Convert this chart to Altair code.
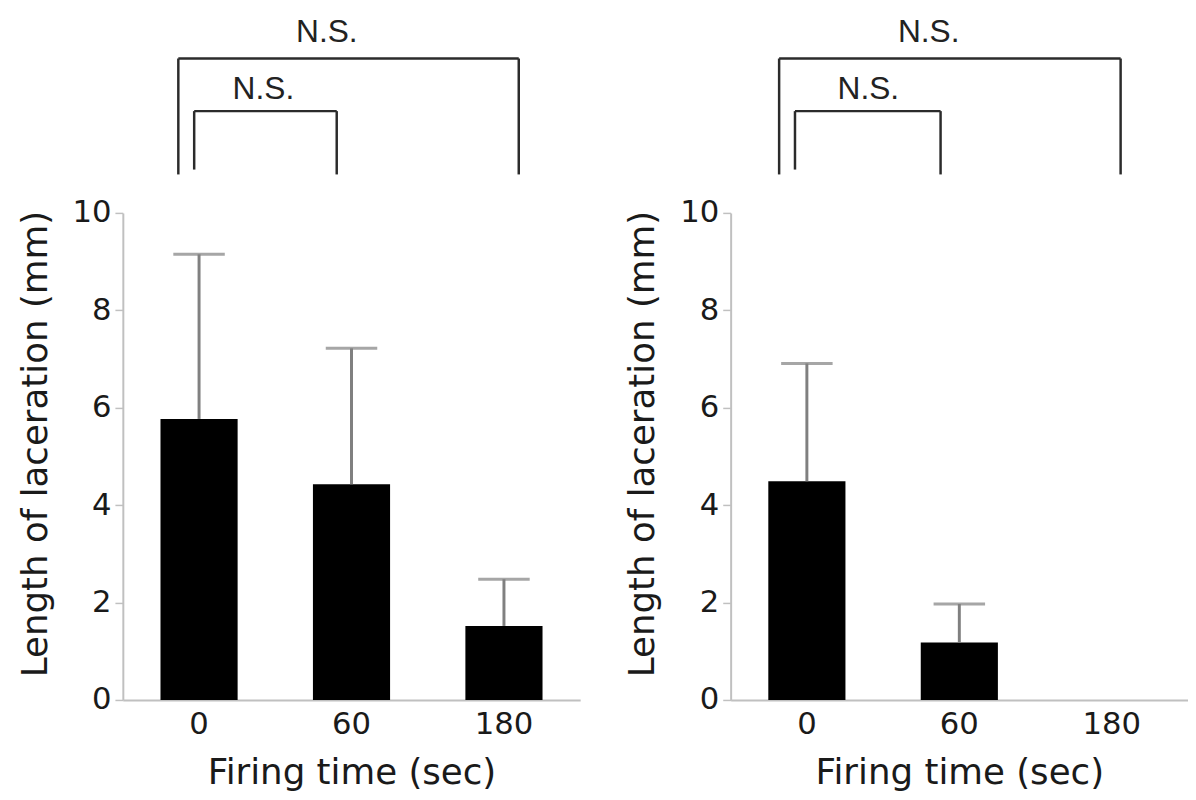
import altair as alt
import pandas as pd

# ---- data ----
times = ["0", "60", "180"]

left_mean = [5.77, 4.43, 1.52]
left_upper = [9.15, 7.22, 2.48]

right_mean = [4.49, 1.18, 0.0]
right_upper = [6.91, 1.97, None]

# significance brackets, x in category-index units (0..3), y in data units
left_br_start = [0.364, 0.468]
left_br_end = [2.597, 1.403]
right_br_start = [0.318, 0.422]
right_br_end = [2.558, 1.377]
br_top = [13.17, 12.09]
br_left_bottom = [10.79, 10.89]
br_right_bottom = [10.79, 10.79]
br_label = ["N.S.", "N.S."]
left_label_x = [1.338, 0.922]
right_label_x = [1.299, 0.903]
label_y = [13.5, 12.34]

Y_TITLE = "Length of laceration (mm)"
X_TITLE = "Firing time (sec)"
W, H = 462, 492


def panel(means, uppers, b_start, b_end, lab_x):
    df = pd.DataFrame({"time": times, "mean": means, "upper": uppers})

    xscale = alt.Scale(domain=times, paddingInner=0.494, paddingOuter=0.247)
    xaxis = alt.Axis(title=X_TITLE, labelAngle=0, ticks=False, tickSize=0,
                     labelPadding=10, titlePadding=16)
    yscale = alt.Scale(domain=[0, 10], nice=False, zero=True)
    yaxis = alt.Axis(title=Y_TITLE, values=[0, 2, 4, 6, 8, 10], tickSize=8,
                     labelPadding=4, titlePadding=18, titleY=233)

    bars = alt.Chart(df).mark_bar(color="#000000").encode(
        x=alt.X("time:N", sort=times, scale=xscale, axis=xaxis),
        y=alt.Y("mean:Q", scale=yscale, axis=yaxis),
    )
    err = alt.Chart(df).transform_filter("isValid(datum.upper)").mark_rule(
        color="#808080", strokeWidth=3
    ).encode(
        x=alt.X("time:N", sort=times, scale=xscale, axis=xaxis),
        y=alt.Y("mean:Q", scale=yscale, axis=yaxis),
        y2="upper:Q",
    )
    cap = alt.Chart(df).transform_filter("isValid(datum.upper)").mark_tick(
        color="#808080", thickness=3, size=52
    ).encode(
        x=alt.X("time:N", sort=times, scale=xscale, axis=xaxis),
        y=alt.Y("upper:Q", scale=yscale, axis=yaxis),
    )
    core = alt.layer(bars, err, cap)

    # bracket segments built from the bracket lists
    seg = []
    for i in range(len(b_start)):
        seg.append({"x1": b_start[i], "x2": b_end[i], "y1": br_top[i], "y2": br_top[i]})
        seg.append({"x1": b_start[i], "x2": b_start[i], "y1": br_top[i], "y2": br_left_bottom[i]})
        seg.append({"x1": b_end[i], "x2": b_end[i], "y1": br_top[i], "y2": br_right_bottom[i]})
    seg_df = pd.DataFrame(seg)
    qx = alt.Scale(domain=[0, 3], nice=False, zero=False)

    brackets = alt.Chart(seg_df).mark_rule(color="#2b2b2b", strokeWidth=2.5).encode(
        x=alt.X("x1:Q", scale=qx, axis=None),
        x2="x2:Q",
        y=alt.Y("y1:Q", scale=yscale, axis=yaxis),
        y2="y2:Q",
    )
    lab_df = pd.DataFrame({"x": lab_x, "y": label_y, "t": br_label})
    labels = alt.Chart(lab_df).mark_text(
        font="Liberation Sans", fontSize=32, color="#222222",
        align="center", baseline="alphabetic"
    ).encode(
        x=alt.X("x:Q", scale=qx, axis=None),
        y=alt.Y("y:Q", scale=yscale, axis=yaxis),
        text="t:N",
    )
    return alt.layer(core, brackets, labels).resolve_scale(x="independent").properties(
        width=W, height=H
    )


left = panel(left_mean, left_upper, left_br_start, left_br_end, left_label_x)
right = panel(right_mean, right_upper, right_br_start, right_br_end, right_label_x)

chart = alt.hconcat(left, right, spacing=45).properties(
    padding={"top": 4, "left": 9, "right": 0, "bottom": 0}
).configure_view(stroke=None).configure_axis(
    labelFont="DejaVu Sans", titleFont="DejaVu Sans",
    labelFontSize=31, titleFontSize=36, titleFontWeight="normal",
    labelColor="#1a1a1a", titleColor="#1a1a1a",
    domainColor="#c0c0c0", tickColor="#c0c0c0", domainWidth=2, tickWidth=1.5,
    grid=False,
)

chart.save("out.html", embed_options={"renderer": "svg", "actions": False})
